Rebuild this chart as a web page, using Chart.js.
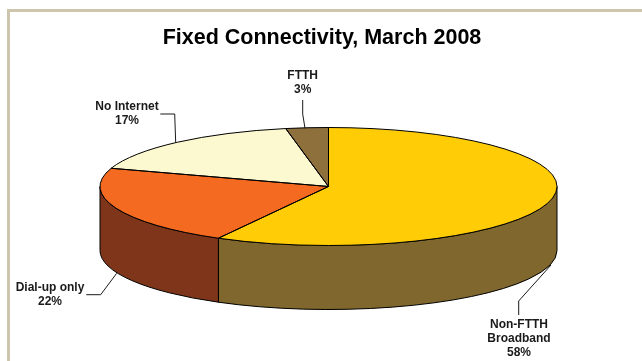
<!DOCTYPE html>
<html>
<head>
<meta charset="utf-8">
<title>Fixed Connectivity, March 2008</title>
<script src="https://cdn.jsdelivr.net/npm/chart.js@4"></script>
<style>
html, body { margin: 0; padding: 0; background: #fff; }
#page { position: relative; width: 642px; height: 361px; overflow: hidden; }
#frame { position: absolute; left: 7px; top: 9px; width: 700px; height: 400px; border-left: 3px solid #cdc5ae; border-top: 3px solid #cdc5ae; }
#pie { position: absolute; left: 0; top: 0; }
</style>
</head>
<body>
<div id="page">
  <div id="frame"></div>
  <canvas id="pie" width="642" height="361"></canvas>
</div>
<script>
var chartTitle = 'Fixed Connectivity, March 2008';
var categories = ['Non-FTTH Broadband', 'Dial-up only', 'No Internet', 'FTTH'];
var shares = [58, 22, 17, 3];
var topColors = ['#ffcc05', '#f56a21', '#fcf8cf', '#8e703c'];
var sideColors = ['#80672d', '#7f351a', '#7e7c68', '#47381e'];

// how each label breaks, where it sits, and the path of its leader line
var labelLines = [['Non-FTTH', 'Broadband'], ['Dial-up only'], ['No Internet'], ['FTTH']];
var labelCenters = [[519, 324.5], [50, 288], [127, 107], [302.7, 75.5]];
var leaders = [
    [[518.7, 315], [518.7, 301], [551, 265]],
    [[86.3, 294.7], [100.7, 294.7], [116.7, 273.3]],
    [[160.3, 114], [174.7, 114], [175.7, 142.7]],
    [[302.7, 100], [302.7, 114], [305, 128.3]]
];

var radiusX = 228.5;
var radiusY = 59;
var depth = 64;
var pieShiftX = 6.5; // pie sits a little right of the title

// Squashes the library's round pie into an ellipse and adds the side wall
var pie3d = {
    id: 'pie3d',
    beforeDatasetsDraw: function(chart) {
        var ctx = chart.ctx;
        var arcs = chart.getDatasetMeta(0).data;
        var cx = arcs[0].x, cy = arcs[0].y, r = arcs[0].outerRadius;

        ctx.save();
        ctx.strokeStyle = '#000';
        ctx.lineWidth = 1;
        for (var i = 0; i < arcs.length; i++) {
            var from = Math.max(arcs[i].startAngle, 0);
            var to = Math.min(arcs[i].endAngle, Math.PI);
            if (from >= to) continue; // back of the pie, wall is hidden
            ctx.beginPath();
            ctx.ellipse(cx + pieShiftX, cy, radiusX, radiusY, 0, from, to);
            ctx.ellipse(cx + pieShiftX, cy + depth, radiusX, radiusY, 0, to, from, true);
            ctx.closePath();
            ctx.fillStyle = sideColors[i];
            ctx.fill();
            ctx.stroke();
        }
        ctx.restore();

        ctx.save();
        ctx.translate(cx + pieShiftX, cy);
        ctx.scale(radiusX / r, radiusY / r);
        ctx.translate(-cx, -cy);
    },
    afterDatasetsDraw: function(chart) {
        var ctx = chart.ctx;
        var arcs = chart.getDatasetMeta(0).data;
        ctx.restore();

        // outlines go here so the squash does not thin the strokes
        ctx.save();
        ctx.strokeStyle = '#000';
        ctx.lineWidth = 1;
        for (var i = 0; i < arcs.length; i++) {
            ctx.beginPath();
            ctx.moveTo(arcs[i].x + pieShiftX, arcs[i].y);
            ctx.ellipse(arcs[i].x + pieShiftX, arcs[i].y, radiusX, radiusY, 0, arcs[i].startAngle, arcs[i].endAngle);
            ctx.closePath();
            ctx.stroke();
        }

        ctx.fillStyle = '#1a1a1a';
        ctx.font = 'bold 12px "Liberation Sans", Arial, sans-serif';
        ctx.textAlign = 'center';
        ctx.textBaseline = 'middle';
        for (var j = 0; j < categories.length; j++) {
            var lines = labelLines[j].concat([shares[j] + '%']);
            for (var k = 0; k < lines.length; k++) {
                ctx.fillText(lines[k], labelCenters[j][0], labelCenters[j][1] + k * 14);
            }
            ctx.beginPath();
            ctx.moveTo(leaders[j][0][0], leaders[j][0][1]);
            ctx.lineTo(leaders[j][1][0], leaders[j][1][1]);
            ctx.lineTo(leaders[j][2][0], leaders[j][2][1]);
            ctx.strokeStyle = '#1a1a1a';
            ctx.stroke();
        }
        ctx.restore();
    }
};

var ctx = document.getElementById('pie');
var fixedChart = new Chart(ctx, {
    type: 'pie',
    data: {
        labels: categories,
        datasets: [{
            data: shares,
            backgroundColor: topColors,
            borderWidth: 0,
            clip: false
        }]
    },
    options: {
        responsive: false,
        animation: false,
        layout: { padding: { left: 2, top: 0, bottom: 38.8 } },
        plugins: {
            legend: { display: false },
            tooltip: { enabled: false },
            title: {
                display: true,
                text: chartTitle,
                color: '#000',
                font: { family: '"Liberation Sans", Arial, sans-serif', size: 21.5, weight: 'bold' },
                padding: { top: 25, bottom: 0 }
            }
        }
    },
    plugins: [pie3d]
});
</script>
</body>
</html>
